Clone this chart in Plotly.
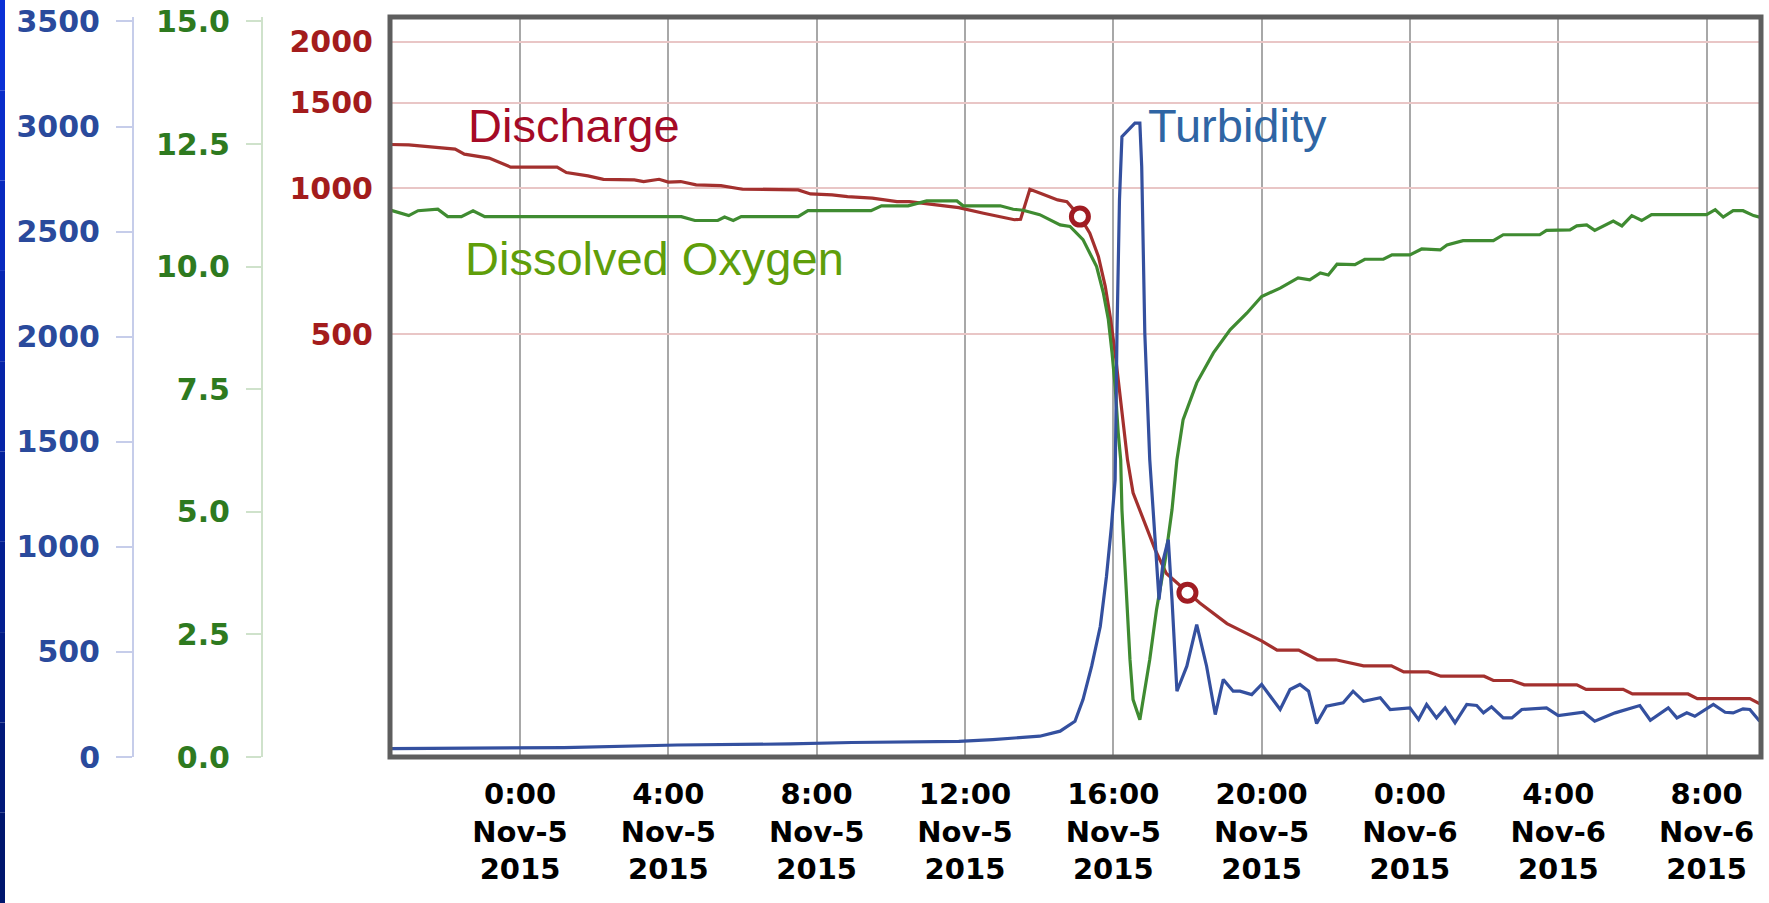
import plotly.graph_objects as go

# ---------------- data ----------------
discharge_time = [
    "2015-11-04 20:28", "2015-11-04 21:00", "2015-11-04 22:15", "2015-11-04 22:30", "2015-11-04 23:10",
    "2015-11-04 23:25", "2015-11-04 23:45", "2015-11-05 01:00", "2015-11-05 01:15", "2015-11-05 01:50",
    "2015-11-05 02:15", "2015-11-05 03:05", "2015-11-05 03:20", "2015-11-05 03:45", "2015-11-05 04:00",
    "2015-11-05 04:20", "2015-11-05 04:45", "2015-11-05 05:25", "2015-11-05 06:00", "2015-11-05 07:30",
    "2015-11-05 07:50", "2015-11-05 08:25", "2015-11-05 08:50", "2015-11-05 09:30", "2015-11-05 10:10",
    "2015-11-05 10:30", "2015-11-05 11:10", "2015-11-05 11:50", "2015-11-05 12:30", "2015-11-05 12:55",
    "2015-11-05 13:20", "2015-11-05 13:30", "2015-11-05 13:45", "2015-11-05 14:05", "2015-11-05 14:30",
    "2015-11-05 14:45", "2015-11-05 15:06", "2015-11-05 15:22", "2015-11-05 15:36", "2015-11-05 15:47",
    "2015-11-05 15:55", "2015-11-05 16:03", "2015-11-05 16:10", "2015-11-05 16:16", "2015-11-05 16:23",
    "2015-11-05 16:32", "2015-11-05 16:49", "2015-11-05 17:08", "2015-11-05 17:26", "2015-11-05 18:00",
    "2015-11-05 18:20", "2015-11-05 19:04", "2015-11-05 20:00", "2015-11-05 20:25", "2015-11-05 21:00",
    "2015-11-05 21:30", "2015-11-05 22:00", "2015-11-05 22:45", "2015-11-05 23:30", "2015-11-05 23:50",
    "2015-11-06 00:30", "2015-11-06 00:50", "2015-11-06 02:00", "2015-11-06 02:15", "2015-11-06 02:45",
    "2015-11-06 03:05", "2015-11-06 04:30", "2015-11-06 04:45", "2015-11-06 05:45", "2015-11-06 06:00",
    "2015-11-06 07:30", "2015-11-06 07:45", "2015-11-06 09:10", "2015-11-06 09:25", "2015-11-06 09:35",
]
discharge_cfs = [
    1230, 1228, 1203, 1175, 1153,
    1134, 1105, 1105, 1077, 1060,
    1043, 1040, 1032, 1043, 1029,
    1032, 1016, 1012, 995, 992,
    973, 969, 961, 954, 938,
    938, 924, 912, 888, 874,
    861, 863, 995, 973, 946,
    938, 874, 808, 723, 628,
    544, 458, 379, 323, 276,
    236, 208, 180, 161, 147,
    140, 127, 117, 112, 112,
    107, 107, 104, 104, 101,
    101, 99, 99, 97, 97,
    95, 95, 93, 93, 91,
    91, 89, 89, 87, 87,
]

sample_time = ["2015-11-05 15:06", "2015-11-05 18:00"]
sample_cfs = [874, 147]

do_time = [
    "2015-11-04 20:28", "2015-11-04 21:00", "2015-11-04 21:15", "2015-11-04 21:47", "2015-11-04 22:03",
    "2015-11-04 22:25", "2015-11-04 22:44", "2015-11-04 23:03", "2015-11-05 04:21", "2015-11-05 04:43",
    "2015-11-05 05:20", "2015-11-05 05:31", "2015-11-05 05:45", "2015-11-05 05:58", "2015-11-05 07:30",
    "2015-11-05 07:46", "2015-11-05 09:28", "2015-11-05 09:45", "2015-11-05 10:28", "2015-11-05 10:58",
    "2015-11-05 11:47", "2015-11-05 11:57", "2015-11-05 12:57", "2015-11-05 13:18", "2015-11-05 13:34",
    "2015-11-05 14:01", "2015-11-05 14:34", "2015-11-05 14:50", "2015-11-05 15:11", "2015-11-05 15:28",
    "2015-11-05 15:33", "2015-11-05 15:44", "2015-11-05 15:52", "2015-11-05 15:58", "2015-11-05 16:03",
    "2015-11-05 16:08", "2015-11-05 16:12", "2015-11-05 16:14", "2015-11-05 16:21", "2015-11-05 16:27",
    "2015-11-05 16:32", "2015-11-05 16:43", "2015-11-05 16:59", "2015-11-05 17:10", "2015-11-05 17:24",
    "2015-11-05 17:35", "2015-11-05 17:43", "2015-11-05 17:53", "2015-11-05 18:15", "2015-11-05 18:42",
    "2015-11-05 19:09", "2015-11-05 19:36", "2015-11-05 20:00", "2015-11-05 20:30", "2015-11-05 20:59",
    "2015-11-05 21:18", "2015-11-05 21:35", "2015-11-05 21:48", "2015-11-05 22:02", "2015-11-05 22:31",
    "2015-11-05 22:47", "2015-11-05 23:17", "2015-11-05 23:31", "2015-11-06 00:00", "2015-11-06 00:19",
    "2015-11-06 00:49", "2015-11-06 01:00", "2015-11-06 01:26", "2015-11-06 02:15", "2015-11-06 02:31",
    "2015-11-06 03:30", "2015-11-06 03:41", "2015-11-06 04:19", "2015-11-06 04:30", "2015-11-06 04:46",
    "2015-11-06 04:59", "2015-11-06 05:29", "2015-11-06 05:43", "2015-11-06 05:59", "2015-11-06 06:15",
    "2015-11-06 06:31", "2015-11-06 08:00", "2015-11-06 08:14", "2015-11-06 08:27", "2015-11-06 08:43",
    "2015-11-06 08:59", "2015-11-06 09:16", "2015-11-06 09:35",
]
do_mgl = [
    11.16, 11.04, 11.14, 11.17, 11.02,
    11.02, 11.14, 11.02, 11.02, 10.94,
    10.94, 11.01, 10.94, 11.02, 11.02,
    11.14, 11.14, 11.24, 11.24, 11.34,
    11.34, 11.24, 11.24, 11.17, 11.15,
    11.06, 10.85, 10.82, 10.55, 10.14,
    10.00, 9.46, 8.92, 8.24, 7.56,
    6.61, 6.06, 5.04, 3.35, 1.99,
    1.17, 0.76, 1.99, 3.01, 4.02,
    5.04, 6.06, 6.88, 7.63, 8.24,
    8.71, 9.05, 9.39, 9.56, 9.77,
    9.73, 9.87, 9.83, 10.05, 10.04,
    10.15, 10.15, 10.24, 10.24, 10.36,
    10.34, 10.44, 10.53, 10.53, 10.65,
    10.65, 10.74, 10.75, 10.83, 10.85,
    10.74, 10.93, 10.83, 11.04, 10.94,
    11.06, 11.06, 11.16, 11.01, 11.14,
    11.14, 11.04, 10.98,
]

turb_time = [
    "2015-11-04 20:28", "2015-11-05 01:11", "2015-11-05 04:14", "2015-11-05 07:17", "2015-11-05 08:57",
    "2015-11-05 11:50", "2015-11-05 12:45", "2015-11-05 14:01", "2015-11-05 14:34", "2015-11-05 14:58",
    "2015-11-05 15:11", "2015-11-05 15:25", "2015-11-05 15:39", "2015-11-05 15:49", "2015-11-05 15:57",
    "2015-11-05 16:03", "2015-11-05 16:06", "2015-11-05 16:10", "2015-11-05 16:14", "2015-11-05 16:22",
    "2015-11-05 16:35", "2015-11-05 16:43", "2015-11-05 16:46", "2015-11-05 16:51", "2015-11-05 16:57",
    "2015-11-05 16:59", "2015-11-05 17:08", "2015-11-05 17:14", "2015-11-05 17:21", "2015-11-05 17:29",
    "2015-11-05 17:35", "2015-11-05 17:43", "2015-11-05 17:59", "2015-11-05 18:15", "2015-11-05 18:31",
    "2015-11-05 18:45", "2015-11-05 18:58", "2015-11-05 19:14", "2015-11-05 19:25", "2015-11-05 19:44",
    "2015-11-05 20:00", "2015-11-05 20:30", "2015-11-05 20:46", "2015-11-05 21:02", "2015-11-05 21:16",
    "2015-11-05 21:29", "2015-11-05 21:45", "2015-11-05 22:12", "2015-11-05 22:28", "2015-11-05 22:45",
    "2015-11-05 23:12", "2015-11-05 23:28", "2015-11-06 00:00", "2015-11-06 00:14", "2015-11-06 00:27",
    "2015-11-06 00:43", "2015-11-06 00:57", "2015-11-06 01:13", "2015-11-06 01:32", "2015-11-06 01:48",
    "2015-11-06 01:59", "2015-11-06 02:12", "2015-11-06 02:31", "2015-11-06 02:45", "2015-11-06 03:01",
    "2015-11-06 03:41", "2015-11-06 04:00", "2015-11-06 04:41", "2015-11-06 04:59", "2015-11-06 05:32",
    "2015-11-06 06:12", "2015-11-06 06:29", "2015-11-06 06:58", "2015-11-06 07:12", "2015-11-06 07:28",
    "2015-11-06 07:41", "2015-11-06 08:11", "2015-11-06 08:30", "2015-11-06 08:43", "2015-11-06 08:59",
    "2015-11-06 09:10", "2015-11-06 09:26",
]
turb_ntu = [
    40, 45, 57, 62, 69,
    74, 83, 99, 123, 170,
    273, 432, 622, 860, 1098,
    1320, 2017, 2651, 2952, 2976,
    3016, 3016, 2809, 2017, 1542,
    1415, 1019, 749, 939, 1034,
    749, 313, 432, 630, 432,
    202, 369, 313, 313, 297,
    345, 226, 321, 345, 313,
    159, 242, 258, 313, 265,
    282, 226, 234, 178, 250,
    186, 234, 163, 250, 245,
    210, 239, 186, 186, 226,
    234, 197, 213, 170, 210,
    245, 175, 234, 186, 210,
    194, 250, 213, 210, 229,
    226, 170,
]

x_tickvals = [
    "2015-11-05 00:00", "2015-11-05 04:00", "2015-11-05 08:00", "2015-11-05 12:00", "2015-11-05 16:00",
    "2015-11-05 20:00", "2015-11-06 00:00", "2015-11-06 04:00", "2015-11-06 08:00",
]
x_ticktext = [
    "0:00<br>Nov-5<br>2015", "4:00<br>Nov-5<br>2015", "8:00<br>Nov-5<br>2015", "12:00<br>Nov-5<br>2015",
    "16:00<br>Nov-5<br>2015", "20:00<br>Nov-5<br>2015", "0:00<br>Nov-6<br>2015", "4:00<br>Nov-6<br>2015",
    "8:00<br>Nov-6<br>2015",
]
x_range = ["2015-11-04 20:29:38", "2015-11-06 09:28:05"]

discharge_ticks = [500, 1000, 1500, 2000]
do_ticks = [0, 2.5, 5.0, 7.5, 10.0, 12.5, 15.0]
do_ticktext = ["0.0", "2.5", "5.0", "7.5", "10.0", "12.5", "15.0"]
turb_ticks = [0, 500, 1000, 1500, 2000, 2500, 3000, 3500]

# ---------------- layout geometry ----------------
W, H = 1769, 903
ML, MR, MT, MB = 0, 8, 17, 146
PW = W - ML - MR
PH = H - MT - MB
PLOT_LEFT = 390


def fx(px):
    return (px - ML) / PW


def fy(py):
    return 1 - (py - MT) / PH


RED_LINE = "#a3302e"
GREEN_LINE = "#3f8b31"
BLUE_LINE = "#34509f"
TICKFONT = "DejaVu Sans"

fig = go.Figure()

fig.add_trace(go.Scatter(
    x=discharge_time, y=discharge_cfs, mode="lines", yaxis="y", xaxis="x",
    line=dict(color=RED_LINE, width=3.2), showlegend=False, hoverinfo="skip",
))
fig.add_trace(go.Scatter(
    x=sample_time, y=sample_cfs, mode="markers", yaxis="y", xaxis="x",
    marker=dict(symbol="circle", size=17, color="white", line=dict(color="#a01c22", width=5)),
    showlegend=False, hoverinfo="skip",
))
fig.add_trace(go.Scatter(
    x=do_time, y=do_mgl, mode="lines", yaxis="y2", xaxis="x",
    line=dict(color=GREEN_LINE, width=3.2), showlegend=False, hoverinfo="skip",
))
fig.add_trace(go.Scatter(
    x=turb_time, y=turb_ntu, mode="lines", yaxis="y3", xaxis="x",
    line=dict(color=BLUE_LINE, width=3.2), showlegend=False, hoverinfo="skip",
))

shapes = []
# blue strip at the far left edge (gradient made of a few bands)
n_bands = 10
top_c = (10, 48, 214)
bot_c = (0, 22, 110)
y_top = 1 + MT / PH
y_bot = -MB / PH
for i in range(n_bands):
    t = i / (n_bands - 1)
    c = tuple(int(round(top_c[k] + (bot_c[k] - top_c[k]) * t)) for k in range(3))
    y1 = y_top - (y_top - y_bot) * i / n_bands
    y0 = y_top - (y_top - y_bot) * (i + 1) / n_bands
    shapes.append(dict(type="rect", xref="paper", yref="paper", x0=0, x1=fx(5), y0=y0, y1=y1,
                       fillcolor="rgb(%d,%d,%d)" % c, line=dict(width=0), layer="above"))
# plot frame
shapes.append(dict(type="rect", xref="x domain", yref="y domain", x0=0, x1=1, y0=0, y1=1,
                   line=dict(color="#5e5e5e", width=5), layer="above"))

annotations = [
    dict(text="Discharge", xref="paper", yref="paper", x=fx(466), y=fy(126), xanchor="left",
         yanchor="middle", showarrow=False, font=dict(family="Liberation Sans", size=47, color="#a50a26")),
    dict(text="Dissolved Oxygen", xref="paper", yref="paper", x=fx(463), y=fy(258), xanchor="left",
         yanchor="middle", showarrow=False, font=dict(family="Liberation Sans", size=47, color="#5f9e0a")),
    dict(text="Turbidity", xref="paper", yref="paper", x=fx(1146), y=fy(125), xanchor="left",
         yanchor="middle", showarrow=False, font=dict(family="Liberation Sans", size=47, color="#2f65a4")),
]

fig.update_layout(
    width=W, height=H,
    margin=dict(l=ML, r=MR, t=MT, b=MB, pad=0),
    paper_bgcolor="white", plot_bgcolor="white",
    showlegend=False,
    xaxis=dict(
        type="date", domain=[fx(PLOT_LEFT), 1], range=x_range,
        tickmode="array", tickvals=x_tickvals, ticktext=x_ticktext,
        showgrid=True, gridcolor="#a8a8a8", gridwidth=2,
        ticks="", showline=False, zeroline=False,
        tickfont=dict(family=TICKFONT, size=29, color="black", weight="bold"),
        ticklabelstandoff=17, automargin=False,
    ),
    yaxis=dict(
        type="log", range=[1.8293, 3.3523], anchor="x", side="left",
        tickmode="array", tickvals=discharge_ticks, ticktext=[str(v) for v in discharge_ticks],
        showgrid=True, gridcolor="#e9c6c6", gridwidth=1.5,
        ticks="", showline=False, zeroline=False,
        tickfont=dict(family=TICKFONT, size=30, color="#a31c1c", weight="bold"),
        ticklabelstandoff=16, automargin=False,
    ),
    yaxis2=dict(
        overlaying="y", anchor="free", position=fx(262), side="left",
        range=[0, 15.09], tickmode="array", tickvals=do_ticks, ticktext=do_ticktext,
        showgrid=False, zeroline=False,
        showline=True, linecolor="#cfe2cb", linewidth=2,
        ticks="outside", ticklen=15, tickcolor="#cfe2cb", tickwidth=2,
        tickfont=dict(family=TICKFONT, size=30, color="#2e7a1f", weight="bold"),
        ticklabelstandoff=10, automargin=False,
    ),
    yaxis3=dict(
        overlaying="y", anchor="free", position=fx(133), side="left",
        range=[0, 3521], tickmode="array", tickvals=turb_ticks, ticktext=[str(v) for v in turb_ticks],
        showgrid=False, zeroline=False,
        showline=True, linecolor="#c6cdea", linewidth=2,
        ticks="outside", ticklen=16, tickcolor="#c6cdea", tickwidth=2,
        tickfont=dict(family=TICKFONT, size=30, color="#2a4a9c", weight="bold"),
        ticklabelstandoff=10, automargin=False,
    ),
    shapes=shapes,
    annotations=annotations,
)

fig.write_html(
    "out.html",
    config={"displayModeBar": False},
    post_script="document.body.style.margin='0px';document.body.style.padding='0px';"
                "document.body.style.overflow='hidden';",
)
